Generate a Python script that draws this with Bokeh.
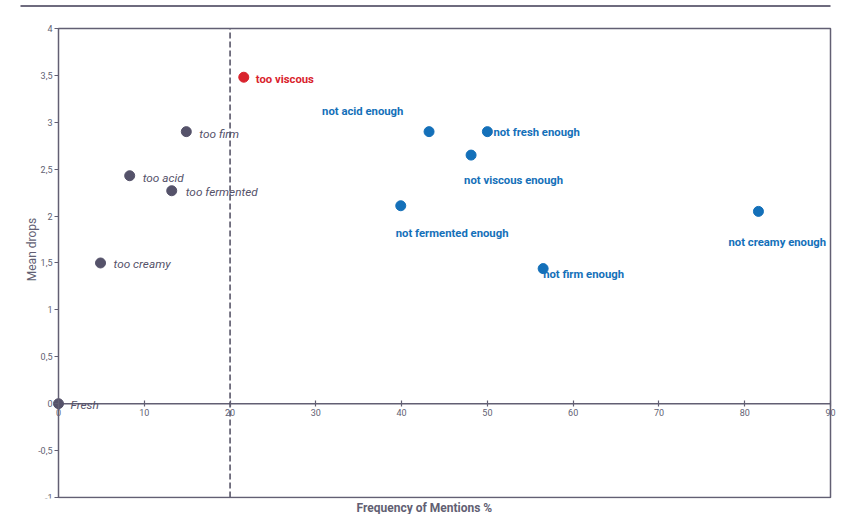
from bokeh.plotting import figure
from bokeh.models import (ColumnDataSource, Range1d, FixedTicker, CustomJSTickFormatter,
                          Title, BoxAnnotation)
from bokeh.embed import file_html
from bokeh.resources import INLINE
from bokeh.core.properties import value

# ---------------- data ----------------
too_labels = ["Fresh", "too creamy", "too acid", "too fermented", "too firm"]
too_freq = [0.0, 4.9, 8.3, 13.2, 14.9]
too_drops = [0.0, 1.50, 2.43, 2.27, 2.90]

red_labels = ["too viscous"]
red_freq = [21.6]
red_drops = [3.48]

not_labels = ["not acid enough", "not fresh enough", "not viscous enough",
              "not fermented enough", "not firm enough", "not creamy enough"]
not_freq = [43.2, 50.0, 48.1, 39.9, 56.5, 81.6]
not_drops = [2.90, 2.90, 2.65, 2.11, 1.44, 2.05]

threshold = 20
x_ticks = [0, 10, 20, 30, 40, 50, 60, 70, 80, 90]
y_ticks = [-1, -0.5, 0, 0.5, 1, 1.5, 2, 2.5, 3, 3.5, 4]

# ---------------- layout (pixels) ----------------
W, H = 843, 514
BOX_L, BOX_R, BOX_T, BOX_B = 58, 830, 28, 498      # visible chart box on the page
FRAME_L, FRAME_R, FRAME_T, FRAME_B = 10, 843, 0, 499
RULE_L, RULE_Y = 20, 5.5

x0, x1 = x_ticks[0], x_ticks[-1]
y0, y1 = y_ticks[0], y_ticks[-1]
XPX = (BOX_R - BOX_L) / (x1 - x0)
YPX = (BOX_B - BOX_T) / (y1 - y0)
x_start = x0 - (BOX_L - FRAME_L) / XPX
x_end = x1 + (FRAME_R - BOX_R) / XPX
y_end = y1 + (BOX_T - FRAME_T) / YPX
y_start = y0 - (FRAME_B - BOX_B) / YPX

# label offsets (screen px)
too_dx = [12, 13, 13, 14, 13]
too_dy = [1, 1, 2, 1, 2]
red_dx = [12]
red_dy = [2]
not_dx = [-107, 6, -7, -5, 0, -30]
not_dy = [-20, 1, 25, 28, 6, 31]

GRAY = "#55526a"
AXIS = "#625f73"
BLUE = "#1470b9"
RED = "#d9232d"
FONT = "Roboto"

p = figure(width=W, height=H, output_backend="svg", toolbar_location=None,
           x_range=Range1d(x_start, x_end), y_range=Range1d(y_start, y_end),
           min_border_left=FRAME_L, min_border_right=W - FRAME_R,
           min_border_top=FRAME_T, min_border_bottom=H - FRAME_B)
p.background_fill_color = "white"
p.border_fill_color = "white"
p.xgrid.visible = False
p.ygrid.visible = False
p.outline_line_color = None

fmt = CustomJSTickFormatter(code="return tick.toString().replace('.', ',');")

p.xaxis.fixed_location = 0
p.xaxis.ticker = FixedTicker(ticks=x_ticks)
p.xaxis.formatter = fmt
p.xaxis.minor_tick_line_color = None
p.xaxis.major_tick_in = 3
p.xaxis.major_tick_out = 3
p.xaxis.axis_line_color = None
p.xaxis.major_tick_line_color = AXIS
p.xaxis.major_tick_line_width = 1.2
p.xaxis.major_label_text_color = AXIS
p.xaxis.major_label_text_font = FONT
p.xaxis.major_label_text_font_size = "9px"
p.xaxis.major_label_standoff = 2

p.yaxis.fixed_location = 0
p.yaxis.ticker = FixedTicker(ticks=y_ticks)
p.yaxis.formatter = fmt
p.yaxis.minor_tick_line_color = None
p.yaxis.major_tick_in = 0
p.yaxis.major_tick_out = 4
p.yaxis.axis_line_color = None
p.yaxis.major_tick_line_color = AXIS
p.yaxis.major_tick_line_width = 1.2
p.yaxis.major_label_text_color = AXIS
p.yaxis.major_label_text_font = FONT
p.yaxis.major_label_text_font_size = "9px"
p.yaxis.major_label_standoff = 2
p.yaxis.axis_label = "Mean drops"
p.yaxis.axis_label_text_font = FONT
p.yaxis.axis_label_text_font_style = "normal"
p.yaxis.axis_label_text_font_size = "12px"
p.yaxis.axis_label_text_color = AXIS
p.yaxis.axis_label_standoff = -4

# chart box
p.add_layout(BoxAnnotation(left=x0, right=x1, bottom=y0, top=y1, fill_alpha=0,
                           line_color=AXIS, line_alpha=1, line_width=1.5))
# x axis line at zero
p.segment(x0=[x0], y0=[0], x1=[x1], y1=[0], line_color=AXIS, line_width=1.5)
# threshold line
p.segment(x0=[threshold], y0=[y0], x1=[threshold], y1=[y1], line_color="#4d4a5e",
          line_width=1.5, line_dash="6 3")
# rule at the top of the page
rule_y = y1 + (BOX_T - RULE_Y) / YPX
p.segment(x0=[x0 - (BOX_L - RULE_L) / XPX], y0=[rule_y], x1=[x1], y1=[rule_y],
          line_color="#6e6b7e", line_width=2)

src_too = ColumnDataSource(dict(x=too_freq, y=too_drops, t=too_labels, dx=too_dx, dy=too_dy))
src_red = ColumnDataSource(dict(x=red_freq, y=red_drops, t=red_labels, dx=red_dx, dy=red_dy))
src_not = ColumnDataSource(dict(x=not_freq, y=not_drops, t=not_labels, dx=not_dx, dy=not_dy))

p.scatter("x", "y", source=src_too, size=10, color=GRAY)
p.scatter("x", "y", source=src_red, size=10, color=RED)
p.scatter("x", "y", source=src_not, size=10, color=BLUE)

p.text("x", "y", text="t", source=src_too, x_offset="dx", y_offset="dy",
       text_font=value(FONT), text_font_style="italic", text_font_size="11.8px",
       text_color=GRAY, text_baseline="middle", text_align="left")
p.text("x", "y", text="t", source=src_red, x_offset="dx", y_offset="dy",
       text_font=value(FONT), text_font_style="bold", text_font_size="11.3px",
       text_color=RED, text_baseline="middle", text_align="left")
p.text("x", "y", text="t", source=src_not, x_offset="dx", y_offset="dy",
       text_font=value(FONT), text_font_style="bold", text_font_size="11.3px",
       text_color=BLUE, text_baseline="middle", text_align="left")

p.add_layout(Title(text="Frequency of Mentions %", align="left", offset=356 - FRAME_L,
                   text_font=FONT, text_font_size="12px", text_font_style="bold",
                   text_color=AXIS, standoff=0), "below")

open("out.html", "w").write(file_html(p, INLINE))
